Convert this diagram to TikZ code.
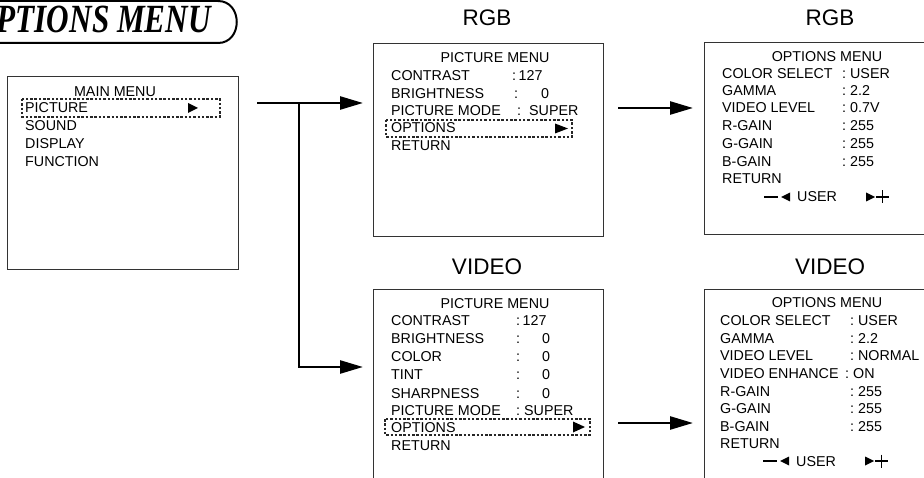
\documentclass[tikz,border=0pt]{standalone}
\usepackage{fontspec}
\setmainfont{Liberation Sans}
\newfontfamily\titlefont{Liberation Serif}
\usetikzlibrary{arrows.meta}
\tikzset{
  box/.style={draw=black!80, line width=1.1pt, inner sep=0, anchor=north west},
  txt/.style={anchor=base west, inner sep=0, font=\fontsize{14.3}{16}\selectfont},
  ctr/.style={anchor=base, inner sep=0, font=\fontsize{14.3}{16}\selectfont},
  hdr/.style={anchor=base, inner sep=0, font=\fontsize{22.5}{24}\selectfont},
  sel/.style={draw=black!85, line width=1.1pt, dash pattern=on 2.5pt off 1.8pt},
  arr/.style={line width=2.5pt, -{Triangle[length=23pt,width=13pt]}},
}
\begin{document}
\begin{tikzpicture}[x=1pt,y=-1pt]
\useasboundingbox (0,0) rectangle (924,478);
\clip (0,0) rectangle (924,478);
% title
\draw[line width=2pt] (-5,1) -- (218,1) .. controls (243,1) and (243,43) .. (218,43) -- (-5,43);
\node[anchor=base east, inner sep=0, font=\titlefont\bfseries\itshape\fontsize{40}{40}\selectfont] (title) at (211,33) {\scalebox{0.78}[1]{OPTIONS MENU}};

% main menu
\node[box, minimum width=231pt, minimum height=193pt] (mainbox) at (7,76) {};
\node[ctr] (mm0) at (115,97) {MAIN MENU};
\node[txt] (mm1) at (25,113) {PICTURE};
\node[txt] (mm2) at (25,131) {SOUND};
\node[txt] (mm3) at (25,149) {DISPLAY};
\node[txt] (mm4) at (25,167) {FUNCTION};
\draw[sel] (22,99) rectangle (220,117);
\fill (188,103) -- (198,108) -- (188,113) -- cycle;

% headers
\node[hdr] (h1) at (487,26) {RGB};
\node[hdr] (h2) at (830,26) {RGB};
\node[hdr] (h3) at (487,275) {VIDEO};
\node[hdr] (h4) at (830,275) {VIDEO};

% RGB picture menu
\node[box, minimum width=230pt, minimum height=193pt] (rgbpic) at (373,43) {};
\node[ctr] (rp0) at (495,63) {PICTURE MENU};
\node[txt] (rp1) at (391,81) {CONTRAST};
\node[txt] (rp1v) at (512,81) {:\kern2.5pt 127};
\node[txt] (rp2) at (391,99) {BRIGHTNESS};
\node[txt] (rp2c) at (514,99) {:};
\node[txt] (rp2v) at (541,99) {0};
\node[txt] (rp3) at (391,116) {PICTURE MODE};
\node[txt] (rp3c) at (517,116) {:};
\node[txt] (rp3v) at (529,116) {SUPER};
\node[txt] (rp4) at (391,133) {OPTIONS};
\node[txt] (rp5) at (391,151) {RETURN};
\draw[sel] (386,120) rectangle (572,137);
\fill (555,123.5) -- (568,128.5) -- (555,133.5) -- cycle;

% RGB options menu
\node[box, minimum width=240pt, minimum height=192pt] (rgbopt) at (704,42) {};
\node[ctr] (ro0) at (827,62) {OPTIONS MENU};
\node[txt] (ro1) at (722,79) {COLOR SELECT};
\node[txt] (ro1v) at (842,79) {:\kern4pt USER};
\node[txt] (ro2) at (722,96) {GAMMA};
\node[txt] (ro2v) at (842,96) {:\kern4pt 2.2};
\node[txt] (ro3) at (722,113) {VIDEO LEVEL};
\node[txt] (ro3v) at (842,113) {:\kern4pt 0.7V};
\node[txt] (ro4) at (722,131) {R-GAIN};
\node[txt] (ro4v) at (842,131) {:\kern4pt 255};
\node[txt] (ro5) at (722,149) {G-GAIN};
\node[txt] (ro5v) at (842,149) {:\kern4pt 255};
\node[txt] (ro6) at (722,167) {B-GAIN};
\node[txt] (ro6v) at (842,167) {:\kern4pt 255};
\node[txt] (ro7) at (722,184) {RETURN};
\node[txt] (ro8) at (797,202) {USER};
\draw[line width=1.4pt] (764,197) -- (778,197);
\fill (790,192.5) -- (781,197) -- (790,201.5) -- cycle;
\fill (866,192.5) -- (875,197) -- (866,201.5) -- cycle;
\draw[line width=1.2pt] (876,197) -- (889,197) (882.5,190.5) -- (882.5,203.5);

% VIDEO picture menu
\node[box, minimum width=230pt, minimum height=200pt] (vidpic) at (373,289) {};
\node[ctr] (vp0) at (495,309) {PICTURE MENU};
\node[txt] (vp1) at (391,326) {CONTRAST};
\node[txt] (vp1v) at (516,326) {:\kern2.5pt 127};
\node[txt] (vp2) at (391,344) {BRIGHTNESS};
\node[txt] (vp2c) at (516,344) {:};
\node[txt] (vp2v) at (542,344) {0};
\node[txt] (vp3) at (391,362) {COLOR};
\node[txt] (vp3c) at (516,362) {:};
\node[txt] (vp3v) at (542,362) {0};
\node[txt] (vp4) at (391,380) {TINT};
\node[txt] (vp4c) at (516,380) {:};
\node[txt] (vp4v) at (542,380) {0};
\node[txt] (vp5) at (391,398) {SHARPNESS};
\node[txt] (vp5c) at (516,398) {:};
\node[txt] (vp5v) at (542,398) {0};
\node[txt] (vp6) at (391,415) {PICTURE MODE};
\node[txt] (vp6v) at (516,415) {:\kern4pt SUPER};
\node[txt] (vp7) at (391,432) {OPTIONS};
\node[txt] (vp8) at (391,450) {RETURN};
\draw[sel] (385,419) rectangle (590,435);
\fill (573,421.5) -- (585,427) -- (573,432.5) -- cycle;

% VIDEO options menu
\node[box, minimum width=240pt, minimum height=200pt] (vidopt) at (704,289) {};
\node[ctr] (vo0) at (827,308) {OPTIONS MENU};
\node[txt] (vo1) at (720,326) {COLOR SELECT};
\node[txt] (vo1v) at (850,326) {:\kern4pt USER};
\node[txt] (vo2) at (720,344) {GAMMA};
\node[txt] (vo2v) at (850,344) {:\kern4pt 2.2};
\node[txt] (vo3) at (720,361) {VIDEO LEVEL};
\node[txt] (vo3v) at (850,361) {:\kern4pt NORMAL};
\node[txt] (vo4) at (720,378) {VIDEO ENHANCE};
\node[txt] (vo4v) at (845,378) {:\kern4pt ON};
\node[txt] (vo5) at (720,396) {R-GAIN};
\node[txt] (vo5v) at (850,396) {:\kern4pt 255};
\node[txt] (vo6) at (720,413) {G-GAIN};
\node[txt] (vo6v) at (850,413) {:\kern4pt 255};
\node[txt] (vo7) at (720,431) {B-GAIN};
\node[txt] (vo7v) at (850,431) {:\kern4pt 255};
\node[txt] (vo8) at (720,448) {RETURN};
\node[txt] (vo9) at (796,466) {USER};
\draw[line width=1.4pt] (763,461) -- (777,461);
\fill (789,456.5) -- (780,461) -- (789,465.5) -- cycle;
\fill (865,456.5) -- (874,461) -- (865,465.5) -- cycle;
\draw[line width=1.2pt] (875,461) -- (888,461) (881.5,454.5) -- (881.5,467.5);

% connectors
\coordinate (s1) at (257,103);
\coordinate (j1) at (299,103);
\coordinate (t2) at (299,367);
\coordinate (s3) at (618,108);
\coordinate (s4) at (618,423);
\draw[arr, shorten >=10pt] (s1) -- (rgbpic.west |- s1);
\draw[arr, shorten >=10pt] (j1) -- (t2) -- (vidpic.west |- t2);
\draw[arr, shorten >=11pt] (s3) -- (rgbopt.west |- s3);
\draw[arr, shorten >=11pt] (s4) -- (vidopt.west |- s4);
\end{tikzpicture}
\end{document}
